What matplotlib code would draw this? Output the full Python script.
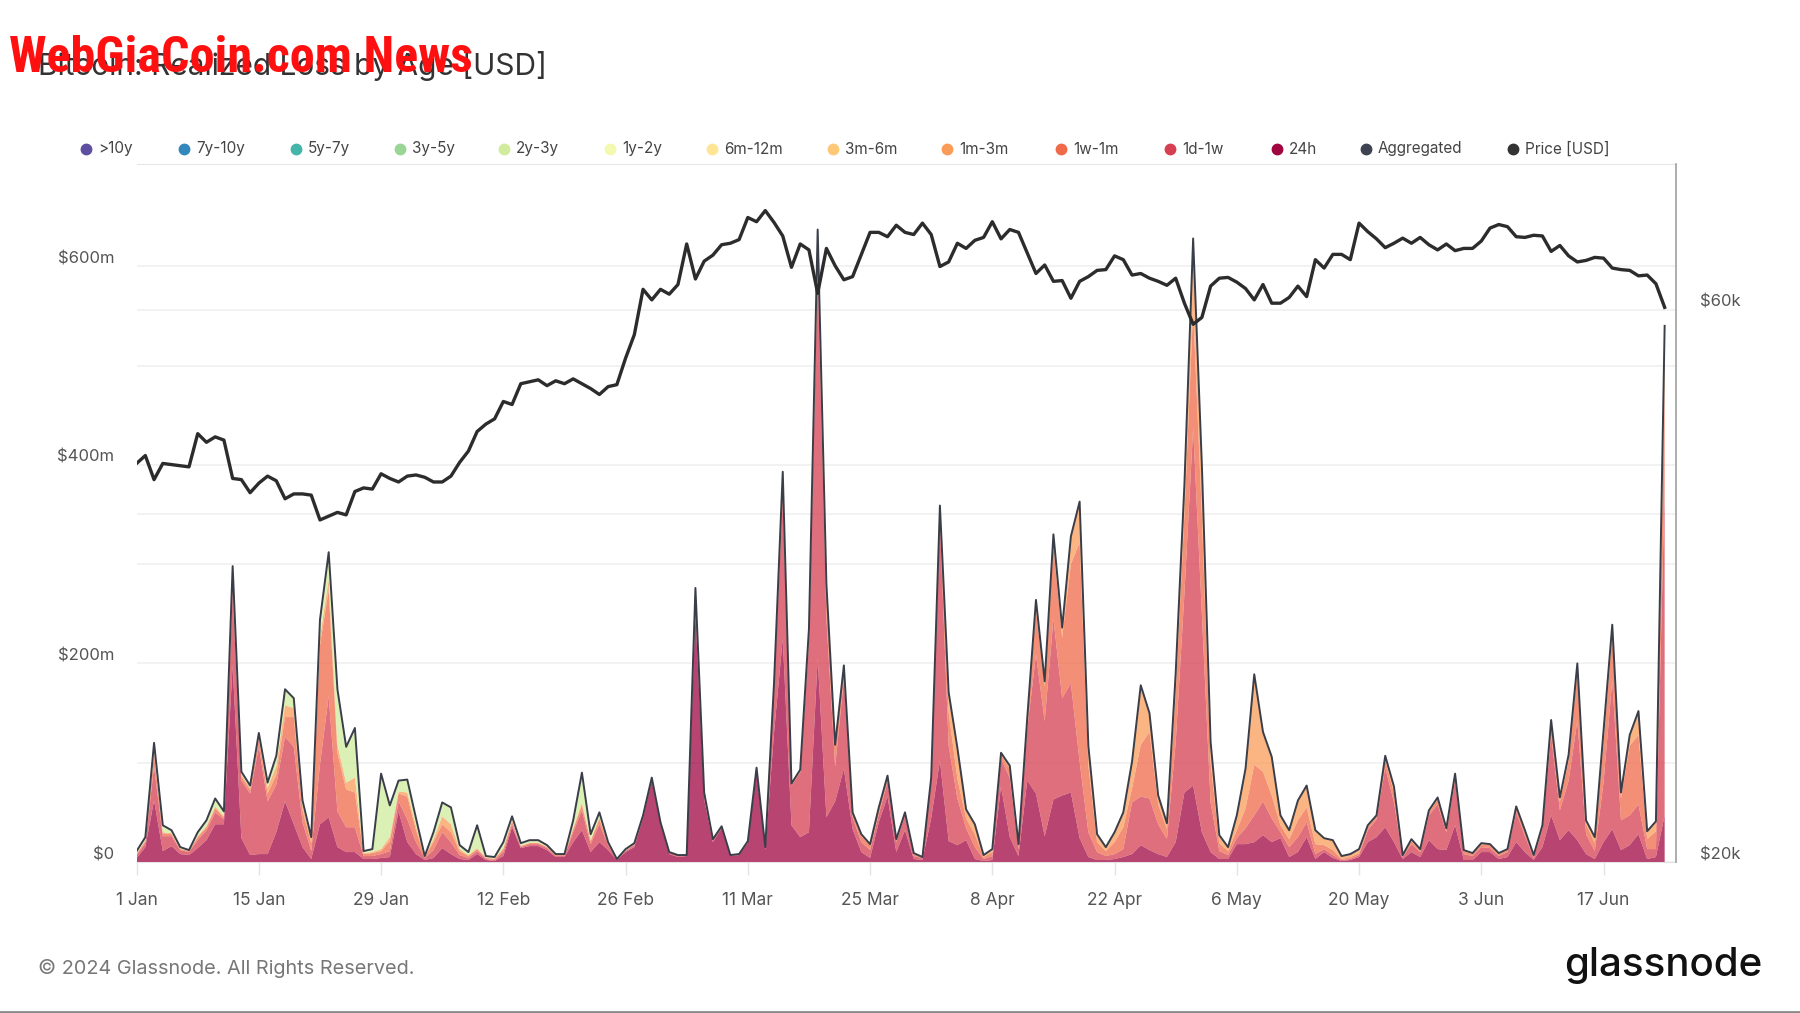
import numpy as np
import pandas as pd
import matplotlib
matplotlib.use('Agg')
import matplotlib.pyplot as plt
import matplotlib.transforms as mtransforms
from matplotlib import font_manager
from matplotlib.lines import Line2D
from matplotlib.ticker import FixedLocator, FuncFormatter, NullLocator

plt.rcParams['font.family'] = ['Inter', 'DejaVu Sans']

# ---- data -----------------------------------------------------------------
dates = pd.date_range('2024-01-01', '2024-06-24', freq='D')

# BTC price, thousands USD
price_k = [
    44.2, 44.9, 42.8, 44.2, 44.1, 44.0, 43.9, 46.9, 46.1, 46.6, 46.3, 42.9, 42.8, 41.7, 42.5, 43.1,
    42.7, 41.2, 41.6, 41.6, 41.5, 39.5, 39.8, 40.1, 39.9, 41.8, 42.1, 42.0, 43.3, 42.9, 42.6,
    43.1, 43.2, 43.0, 42.6, 42.6, 43.1, 44.3, 45.3, 47.1, 47.8, 48.3, 50.0, 49.7, 51.8, 52.0,
    52.2, 51.6, 52.1, 51.8, 52.3, 51.8, 51.3, 50.7, 51.5, 51.7, 54.5, 57.1, 62.5, 61.2,
    62.5, 61.9, 63.1, 68.4, 63.8, 66.1, 66.9, 68.3, 68.5, 69.0, 72.1, 71.5, 73.1, 71.4, 69.5, 65.3,
    68.4, 67.6, 62.0, 67.8, 65.5, 63.7, 64.1, 67.0, 70.0, 70.0, 69.4, 71.0, 70.0, 69.7, 71.3,
    69.7, 65.4, 66.0, 68.5, 67.8, 68.9, 69.3, 71.5, 69.1, 70.4, 70.0, 67.2, 64.5, 65.6, 63.5,
    63.6, 61.4, 63.5, 64.1, 64.9, 65.0, 66.8, 66.3, 64.3, 64.5, 63.9, 63.5, 63.0, 63.9, 60.8,
    58.3, 59.1, 62.9, 63.9, 64.0, 63.4, 62.6, 61.2, 63.1, 60.8, 60.8, 61.5, 62.9, 61.6, 66.3, 65.2,
    67.0, 67.0, 66.3, 71.3, 70.1, 69.1, 67.9, 68.5, 69.2, 68.5, 69.3, 68.3, 67.6, 68.4, 67.5,
    67.8, 67.8, 68.8, 70.6, 71.1, 70.8, 69.4, 69.3, 69.6, 69.5, 67.4, 68.2, 66.8, 66.0, 66.2,
    66.6, 66.5, 65.2, 65.0, 64.9, 64.2, 64.3, 63.2, 60.3,
]

# realized loss by age, millions USD
loss_24h = [
    4, 15, 62, 11, 16, 8, 7, 14, 22, 38, 38, 198, 24, 7, 8, 8, 30, 61, 38, 15, 3, 38, 45, 15, 10,
    10, 3, 3, 4, 5, 51,
    20, 8, 2, 4, 14, 8, 3, 2, 8, 2, 1, 6, 35, 14, 16, 16, 12, 5, 5, 20, 32, 10, 20, 12, 2, 10, 15,
    44, 82,
    38, 8, 5, 6, 249, 63, 20, 34, 6, 7, 19, 90, 12, 130, 225, 37, 25, 30, 205, 45, 61, 94, 33, 10,
    4, 40, 66, 10, 32, 3, 2,
    44, 102, 21, 17, 22, 3, 1, 2, 76, 25, 6, 82, 69, 26, 63, 67, 70, 24, 5, 2, 2, 3, 5, 8, 17, 12,
    8, 5, 20, 70,
    77, 30, 10, 3, 3, 18, 18, 20, 27, 20, 24, 5, 10, 25, 3, 10, 4, 1, 2, 5, 20, 25, 35, 20, 3, 10,
    5, 22, 13, 12, 37,
    2, 2, 10, 10, 3, 5, 20, 10, 2, 15, 47, 22, 32, 22, 8, 3, 20, 33, 12, 17, 28, 3, 5, 47,
]
loss_1d_1w = [
    3, 4, 34, 15, 10, 4, 3, 8, 10, 12, 5, 72, 58, 62, 108, 53, 48, 65, 78, 25, 8, 60, 122, 36, 25,
    25, 3, 3, 4, 6, 10,
    23, 12, 2, 8, 16, 12, 4, 2, 3, 1, 1, 4, 3, 1, 2, 2, 2, 1, 1, 10, 20, 8, 18, 5, 0.5, 1, 2, 2, 2,
    2, 2, 2, 1, 22, 7, 3, 2, 1, 1, 2, 5, 3, 45, 140, 40, 65, 190, 390, 200, 35, 90, 12, 10, 8, 8,
    15, 10, 15, 3, 2,
    38, 240, 96, 47, 12, 12, 2, 4, 28, 60, 7, 52, 140, 116, 182, 98, 110, 77, 25, 8, 4, 5, 8, 52,
    49, 52, 30, 18, 100, 200,
    360, 220, 50, 8, 4, 6, 16, 27, 34, 24, 6, 10, 15, 15, 5, 3, 3, 1, 1, 2, 12, 18, 60, 40, 2, 8,
    5, 25, 45, 18, 45,
    6, 4, 5, 4, 3, 5, 30, 16, 2, 18, 80, 30, 50, 120, 20, 8, 60, 150, 30, 30, 30, 10, 8, 330,
]
loss_1w_1m = [
    1, 2, 12, 3, 2, 1, 1, 3, 3, 4, 2, 12, 4, 4, 8, 8, 10, 20, 30, 12, 8, 120, 107, 59, 38, 35, 2,
    3, 3, 10, 8,
    23, 12, 1, 8, 8, 10, 4, 2, 2, 1, 1, 3, 3, 1, 1, 1, 1, 1, 1, 3, 5, 3, 5, 2, 0.3, 0.5, 1, 1, 1,
    0, 0, 0, 0, 5, 0, 0, 0, 0, 0, 0, 0, 0, 5, 20, 2, 3, 12, 32, 30, 19, 10, 4, 6, 5, 5, 4, 2, 2,
    2, 1,
    2, 12, 34, 20, 10, 13, 2, 4, 4, 9, 4, 8, 45, 35, 73, 61, 120, 221, 67, 10, 5, 12, 22, 14, 52,
    67, 20, 10, 50, 80,
    120, 100, 40, 8, 4, 8, 20, 51, 30, 23, 7, 8, 17, 15, 10, 4, 5, 1, 2, 2, 3, 3, 8, 10, 1, 3, 2,
    3, 5, 3, 5,
    3, 2, 3, 3, 2, 2, 4, 4, 2, 3, 12, 9, 20, 50, 10, 8, 40, 45, 22, 70, 70, 10, 18, 105,
]
loss_1m_3m = [
    0.5, 1, 4, 1, 1, 0.5, 0.5, 1, 1, 2, 1, 6, 2, 2, 3, 6, 9, 12, 9, 5, 4, 8, 11, 8, 7, 15, 1, 1, 2,
    4, 2,
    4, 4, 0.5, 3, 8, 8, 2, 1, 1, 0.5, 0.5, 1, 1, 0.5, 0.5, 0.5, 0.5, 0.5, 0.5, 1, 3, 1, 2, 0.5,
    0.1, 0.2, 0.5, 0, 0,
    0, 0, 0, 0, 0, 0, 0, 0, 0, 0, 0, 0, 0, 0, 8, 0, 0, 3, 10, 5, 3, 4, 1, 2, 1, 2, 2, 1, 1, 1, 0,
    1, 5, 20, 31, 9, 10, 2, 3, 2, 3, 1, 3, 10, 5, 12, 10, 28, 41, 20, 8, 4, 10, 15, 27, 60, 19, 9,
    6, 20, 30,
    71, 50, 21, 8, 4, 15, 40, 91, 40, 39, 10, 9, 20, 22, 14, 7, 10, 3, 3, 4, 2, 1, 4, 6, 1, 2, 1,
    2, 2, 1, 2,
    1, 1, 1, 1, 1, 1, 2, 2, 1, 1, 4, 4, 6, 8, 4, 6, 12, 11, 6, 11, 24, 8, 10, 58,
]
# 2y-3y coins only show up in January and February
loss_2y_3y = [
    2.5, 3, 8, 7, 3, 1.5, 0.5, 4, 6, 8, 5, 10, 3, 2, 3, 5, 10, 16, 10, 5, 2, 18, 27, 56, 36, 50, 2,
    3, 76, 32, 11,
    13, 8, 0.5, 7, 14, 17, 4, 3, 23, 1.5, 1.5, 6, 4, 2.5, 2.5, 2.5, 1.5, 0.5, 0.5, 8, 30, 6, 5,
    0.5, 0.1, 1.3, 0.5, 0, 0,
] + [0.0] * 116
# remaining cohorts are not visible in the chart
no_loss = [0.0] * len(dates)

cohorts = ['>10y', '7y-10y', '5y-7y', '3y-5y', '2y-3y', '1y-2y', '6m-12m',
           '3m-6m', '1m-3m', '1w-1m', '1d-1w', '24h']
cohort_colors = ['#5e4fa2', '#3288bd', '#45b5aa', '#99d594', '#d0ec9c', '#f3f9ae',
                 '#fee593', '#fdc878', '#fa9c58', '#f06a4a', '#d63f51', '#9f0541']
cohort_values = {
    '>10y': no_loss, '7y-10y': no_loss, '5y-7y': no_loss, '3y-5y': no_loss,
    '2y-3y': loss_2y_3y, '1y-2y': no_loss, '6m-12m': no_loss, '3m-6m': no_loss,
    '1m-3m': loss_1m_3m, '1w-1m': loss_1w_1m, '1d-1w': loss_1d_1w, '24h': loss_24h,
}

# ---- figure -----------------------------------------------------------------
W, H = 1800, 1013
fig = plt.figure(figsize=(W / 100, H / 100), dpi=100)
fig.patch.set_facecolor('white')

ax_l, ax_r, ax_t, ax_b = 136.6, 1676, 164, 862
ax = fig.add_axes([ax_l / W, 1 - ax_b / H, (ax_r - ax_l) / W, (ax_b - ax_t) / H])
ax2 = ax.twinx()

x = np.arange(len(dates))
stack_order = cohorts[::-1]  # 24h at the bottom
stack = [np.array(cohort_values[c], dtype=float) for c in stack_order]
stack_cols = [cohort_colors[cohorts.index(c)] for c in stack_order]
ax.stackplot(x, *stack, colors=stack_cols, alpha=0.75, linewidth=0, zorder=2)

aggregated = np.sum(stack, axis=0)
ax.plot(x, aggregated, color='#3a3e49', lw=1.4, zorder=3)

ax2.plot(x, np.array(price_k) * 1000, color='#2c2c2c', lw=2.4, zorder=4)

# left axis
ax.set_xlim(0, 176.3)
ax.set_ylim(0, 703)
ax.yaxis.set_major_locator(FixedLocator([0, 200, 400, 600]))
ax.yaxis.set_minor_locator(FixedLocator([100, 300, 500]))
ax.yaxis.set_major_formatter(FuncFormatter(lambda v, p: '$0' if v == 0 else f'${v:.0f}m'))
ax.grid(axis='y', which='both', color='#efefef', lw=1.1, zorder=0)
ax.set_axisbelow(True)
ax.tick_params(axis='y', which='both', length=0, pad=16, labelsize=12, labelcolor='#555')
for lbl in ax.get_yticklabels():
    lbl.set_verticalalignment('bottom')

# x axis: every 14 days
tick_idx = list(range(0, len(dates), 14))
ax.set_xticks(tick_idx)
ax.set_xticklabels([f'{dates[i].day} {dates[i]:%b}' for i in tick_idx])
ax.tick_params(axis='x', length=9, width=1, color='#e3e3e3', pad=12.5, labelsize=12.5,
               labelcolor='#555')

ax.spines['left'].set_visible(False)
ax.spines['right'].set_visible(False)
ax.spines['top'].set_color('#e6e6e6')
ax.spines['bottom'].set_color('#e3e3e3')

# right axis (log price)
ax2.set_yscale('log')
ax2.set_ylim(20000, 80200)
ax2.yaxis.set_major_locator(FixedLocator([20000, 60000]))
ax2.yaxis.set_minor_locator(NullLocator())
ax2.yaxis.set_major_formatter(FuncFormatter(lambda v, p: f'${v / 1000:.0f}k'))
ax2.tick_params(axis='y', length=0, pad=17, labelsize=12, labelcolor='#555')
for lbl in ax2.get_yticklabels():
    lbl.set_verticalalignment('bottom')
for s in ['left', 'top', 'bottom']:
    ax2.spines[s].set_visible(False)
ax2.spines['right'].set_color('#a0a0a0')
ax2.spines['right'].set_linewidth(1.2)

# price grid lines behind the areas
blend = mtransforms.blended_transform_factory(ax.transAxes, ax2.transData)
for level in [40000, 60000]:
    ax.plot([0, 1], [level, level], transform=blend, color='#efefef', lw=1.1, zorder=0.5)

# ---- texts ------------------------------------------------------------------
fig.text(38 / W, 1 - 66 / H, 'Bitcoin: Realized Loss by Age [USD]', fontsize=21.5,
         color='#333333', va='center', ha='left')

# the stamp uses a narrow heavy face when one is installed
fonts = font_manager.fontManager.ttflist
names = {f.name for f in fonts}
stamp_kw = dict(family=['DejaVu Sans'], weight='bold')
if 'Roboto Condensed' in names:
    stamp_kw = dict(family=['Roboto Condensed', 'DejaVu Sans'], weight='bold')
elif 'Liberation Sans Narrow' in names:
    stamp_kw = dict(family=['Liberation Sans Narrow', 'DejaVu Sans'], weight='bold')
elif any(f.name == 'DejaVu Sans' and 'condensed' in str(f.stretch) for f in fonts):
    stamp_kw = dict(family=['DejaVu Sans'], weight='bold', stretch='condensed')
stamp = fig.text(9 / W, 1 - 72 / H, 'WebGiaCoin.com News', fontsize=34, color='#ff1010',
                 va='baseline', ha='left', **stamp_kw)
fig.canvas.draw()
stamp_w = stamp.get_window_extent().width
stamp.set_fontsize(34 * 464 / stamp_w)

legend_labels = cohorts + ['Aggregated', 'Price [USD]']
legend_colors = cohort_colors + ['#3d4350', '#333333']
legend_x = [86, 184, 296, 400, 504, 610, 712, 833, 947, 1061, 1170, 1277, 1366, 1513]
leg_y = 1 - 149 / H
for lx, lab, col in zip(legend_x, legend_labels, legend_colors):
    fig.add_artist(Line2D([lx / W], [leg_y], marker='o', markersize=7.5, color=col, lw=0))
    fig.text((lx + 12) / W, leg_y, lab, fontsize=11, color='#444', va='center', ha='left')

fig.text(38 / W, 1 - 968 / H, '\u00a9 2024 Glassnode. All Rights Reserved.', fontsize=14.3,
         color='#777777', va='center', ha='left')
fig.text(1762 / W, 1 - 965 / H, 'glassnode', fontsize=29, color='#111111', va='center',
         ha='right', weight=500)
fig.add_artist(Line2D([0, 1], [1.5 / H, 1.5 / H], color='#8a8a8a', lw=2))

fig.savefig('out.png', dpi=100, facecolor='white')
